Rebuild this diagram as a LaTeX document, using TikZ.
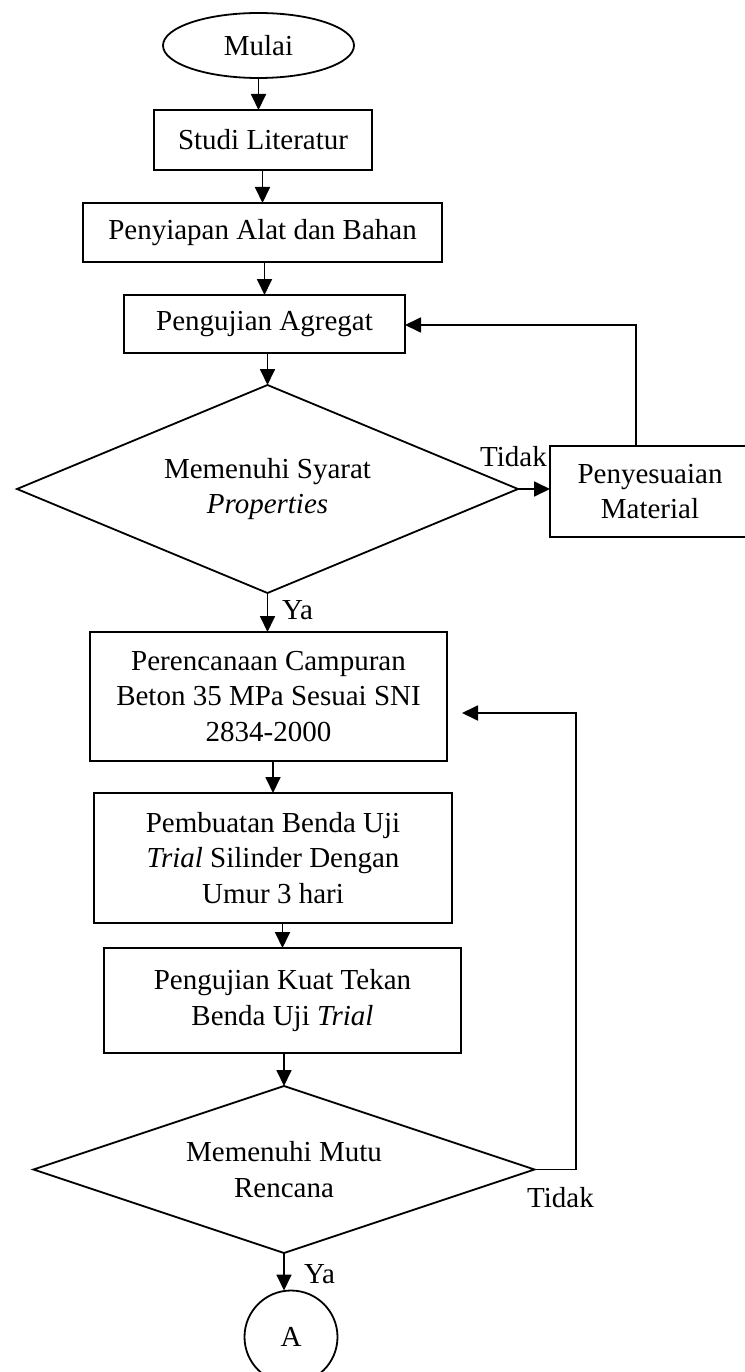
\documentclass[tikz,border=0pt]{standalone}
\usepackage{fontspec}
\setmainfont{Liberation Serif}
\usetikzlibrary{shapes.geometric,arrows.meta,calc}
\begin{document}
\begin{tikzpicture}[x=1pt,y=-1pt,
  every node/.style={font=\fontsize{29}{35.5}\selectfont},
  box/.style={draw, line width=1.8pt, rectangle, inner sep=0pt, outer sep=0pt, align=center},
  dec/.style={draw, line width=1.8pt, diamond, inner sep=0pt, outer sep=0pt, align=center},
  term/.style={draw, line width=1.8pt, ellipse, inner sep=0pt, outer sep=0pt},
  conn/.style={draw, line width=1.8pt, circle, inner sep=0pt, outer sep=0pt},
  lbl/.style={anchor=base west, inner sep=0pt},
  arr/.style={line width=1.8pt, -{Triangle[length=16pt,width=15pt]}}
]
\useasboundingbox (0,0) rectangle (744,1372);

\node[term, minimum width=191pt, minimum height=65pt] (mulai) at (258.5,45.5) {Mulai};
\node[box, minimum width=218pt, minimum height=60pt] (studi) at (263,140) {Studi Literatur};
\node[box, minimum width=359pt, minimum height=59pt] (siap) at (262.5,232.5) {Penyiapan Alat dan Bahan};
\node[box, minimum width=281pt, minimum height=58pt] (uji) at (264.5,324) {Pengujian Agregat};
\node[dec, aspect=2.4, minimum width=501pt, minimum height=208pt] (dec1) at (267.5,489) {Memenuhi Syarat\\\textit{Properties}};
\node[box, minimum width=200pt, minimum height=91pt] (sesuai) at (650,491.5) {Penyesuaian\\Material};
\node[box, minimum width=357pt, minimum height=129pt] (rencana) at (268.5,696.5) {Perencanaan Campuran\\Beton 35 MPa Sesuai SNI\\2834-2000};
\node[box, minimum width=358pt, minimum height=130pt] (buat) at (273,858) {Pembuatan Benda Uji\\\textit{Trial} Silinder Dengan\\Umur 3 hari};
\node[box, minimum width=357pt, minimum height=105pt] (tekan) at (282.5,1000.5) {Pengujian Kuat Tekan\\Benda Uji \textit{Trial}};
\node[dec, aspect=3, minimum width=501pt, minimum height=167pt] (dec2) at (284,1169.5) {Memenuhi Mutu\\Rencana};
\node[conn, minimum size=93pt] (A) at (291,1337) {A};

\node[lbl] (t1) at (480,466) {Tidak};
\node[lbl] (y1) at (282,619) {Ya};
\node[lbl] (y2) at (304,1283) {Ya};
\node[lbl] (t2) at (527,1207) {Tidak};

\coordinate (c1) at (636,325);
\coordinate (c2) at (576,713);
\coordinate (fbtip) at (462,713);

\draw[arr] (mulai.south) -- (mulai.south |- studi.north);
\draw[arr] (studi.south -| siap.north) -- (siap.north);
\draw[arr] (siap.south -| uji.north) -- (uji.north);
\draw[arr] (uji.south -| dec1.north) -- (dec1.north);
\draw[arr] (dec1.east) -- (dec1.east -| sesuai.west);
\draw[arr] (sesuai.north -| c1) -- (c1) -- (c1 -| uji.east);
\draw[arr] (dec1.south) -- (dec1.south |- rencana.north);
\draw[arr] (rencana.south -| buat.north) -- (buat.north);
\draw[arr] (buat.south -| tekan.north) -- (tekan.north);
\draw[arr] (tekan.south -| dec2.north) -- (dec2.north);
\draw[arr] (dec2.east) -- (dec2.east -| c2) -- (c2) -- (fbtip);
\draw[arr] (dec2.south) -- (dec2.south |- A.north);
\end{tikzpicture}
\end{document}
